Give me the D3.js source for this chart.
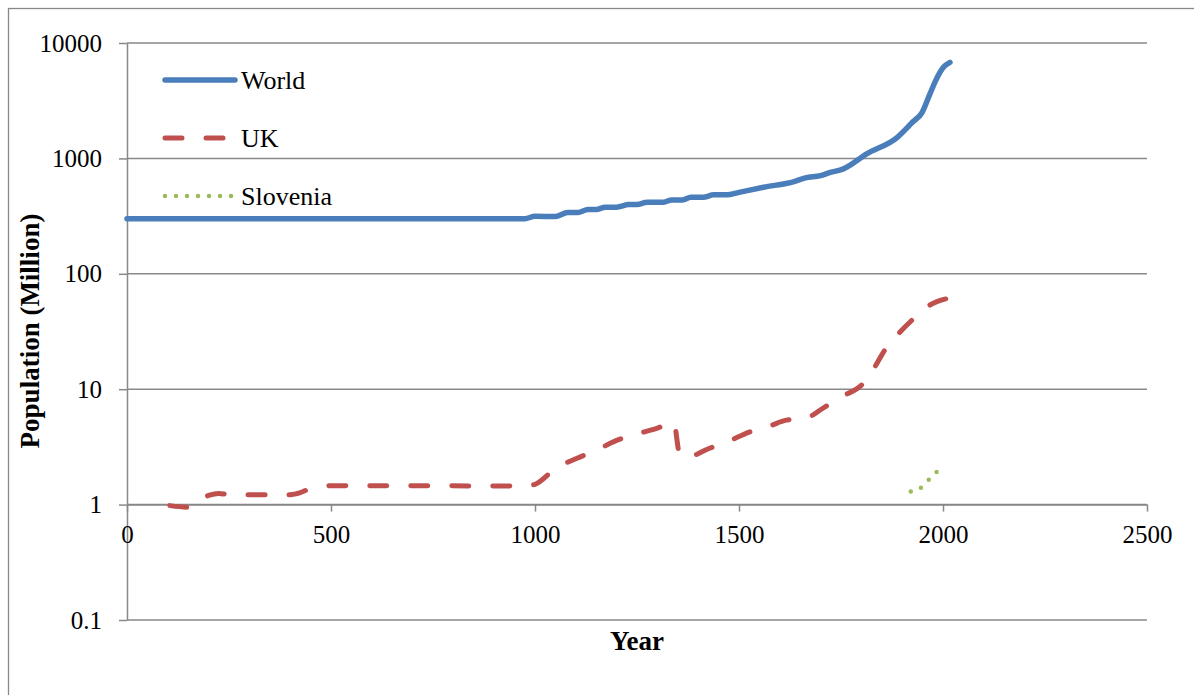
<!DOCTYPE html>
<html lang="en">

<head>
    <meta charset="UTF-8">
    <title>Population (Million)</title>
    <script src="https://d3js.org/d3.v7.min.js"></script>
    <style>
        body { margin: 0; background: #fff; }
        text { font-family: "Liberation Serif", "Times New Roman", serif; fill: #000; }
    </style>
</head>

<body>
    <script>
        // values: [year, million]
        var world = [[0, 300], [975, 300], [1000, 315], [1050, 314], [1080, 340], [1105, 340], [1130, 360],
            [1150, 360], [1172, 378], [1200, 378], [1230, 398], [1250, 398], [1275, 417], [1315, 417],
            [1335, 437], [1362, 437], [1382, 460], [1412, 460], [1438, 483], [1470, 483], [1500, 508],
            [1560, 562], [1635, 630], [1663, 678], [1700, 709], [1720, 749], [1756, 811], [1813, 1094],
            [1888, 1524], [1925, 2056], [1949, 2510], [1968, 3624], [1982, 4725], [2001, 6160], [2017, 6800]];

        var uk = [[105, 0.98], [150, 0.95], [200, 1.2], [225, 1.25], [250, 1.22], [400, 1.22], [425, 1.27],
            [450, 1.38], [500, 1.46], [975, 1.45], [1000, 1.5], [1050, 2.05], [1100, 2.5], [1150, 2.95],
            [1200, 3.6], [1250, 4.1], [1300, 4.6], [1340, 5.15], [1355, 2.7], [1375, 2.6], [1425, 3.05],
            [1475, 3.55], [1525, 4.25], [1575, 4.8], [1616, 5.4], [1663, 5.6], [1710, 7.0], [1757, 8.8],
            [1801, 10.9], [1829, 14.8], [1858, 22], [1888, 29.5], [1927, 40.6], [1962, 52], [2017, 61.8]];

        var slovenia = [[1921, 1.3], [1948, 1.42], [1967, 1.67], [1988, 1.97]];

        var xTicks = [0, 500, 1000, 1500, 2000, 2500];
        var yTicks = [0.1, 1, 10, 100, 1000, 10000];

        var series = [
            { name: "World", data: world, color: "#4a7ebb", width: 5.5, dash: null },
            { name: "UK", data: uk, color: "#c0504d", width: 5, dash: "17,24" },
            { name: "Slovenia", data: slovenia, color: "#9bbb59", width: 4.5, dash: "0,11" }
        ];

        var svg = d3.select("body")
            .append("svg")
            .attr("width", 1194)
            .attr("height", 695);

        // outer chart frame
        svg.append("rect")
            .attr("x", 8.5)
            .attr("y", 8.5)
            .attr("width", 1200)
            .attr("height", 700)
            .attr("fill", "none")
            .attr("stroke", "#888")
            .attr("stroke-width", 1.3);

        var x = d3.scaleLinear().domain([0, 2500]).range([127, 1147]);
        var y = d3.scaleLog().domain([0.1, 10000]).range([620, 43]);

        // gridlines
        svg.append("g")
            .selectAll("line")
            .data(yTicks)
            .join("line")
            .attr("x1", x(0))
            .attr("x2", x(2500))
            .attr("y1", d => y(d))
            .attr("y2", d => y(d))
            .attr("stroke", "#888")
            .attr("stroke-width", 1.5);

        var yAxis = svg.append("g")
            .attr("transform", "translate(" + x(0) + ",0)")
            .call(d3.axisLeft(y).tickValues(yTicks).tickFormat(d => String(d)).tickSizeInner(8).tickSizeOuter(0).tickPadding(17));

        var xAxis = svg.append("g")
            .attr("transform", "translate(0," + y(1) + ")")
            .call(d3.axisBottom(x).tickValues(xTicks).tickFormat(d3.format("d")).tickSizeInner(7).tickSizeOuter(0).tickPadding(14));

        [yAxis, xAxis].forEach(function (g) {
            g.selectAll("path, line").attr("stroke", "#888").attr("stroke-width", 1.5);
            g.selectAll("text").style("font-size", "25px").attr("fill", "#000");
            g.attr("font-family", null).attr("font-size", null);
        });

        var line = d3.line()
            .x(d => x(d[0]))
            .y(d => y(d[1]))
            .curve(d3.curveMonotoneX);

        svg.append("g")
            .selectAll("path")
            .data(series)
            .join("path")
            .attr("d", d => line(d.data))
            .attr("fill", "none")
            .attr("stroke", d => d.color)
            .attr("stroke-width", d => d.width)
            .attr("stroke-dasharray", d => d.dash)
            .attr("stroke-linecap", "round")
            .attr("stroke-linejoin", "round");

        // legend
        var legend = svg.append("g")
            .selectAll("g")
            .data(series)
            .join("g")
            .attr("transform", (d, i) => "translate(165," + (80 + i * 58) + ")");

        legend.append("line")
            .attr("x1", 0)
            .attr("x2", 70)
            .attr("stroke", d => d.color)
            .attr("stroke-width", d => d.width)
            .attr("stroke-dasharray", d => d.dash)
            .attr("stroke-linecap", "round");

        legend.append("text")
            .attr("x", 76)
            .attr("dy", "0.33em")
            .style("font-size", "26px")
            .text(d => d.name);

        // axis titles
        svg.append("text")
            .attr("x", 637)
            .attr("y", 650)
            .attr("text-anchor", "middle")
            .style("font-size", "27px")
            .style("font-weight", "bold")
            .text("Year");

        svg.append("text")
            .attr("transform", "translate(39,331) rotate(-90)")
            .attr("text-anchor", "middle")
            .style("font-size", "27px")
            .style("font-weight", "bold")
            .text("Population (Million)");
    </script>
</body>

</html>
